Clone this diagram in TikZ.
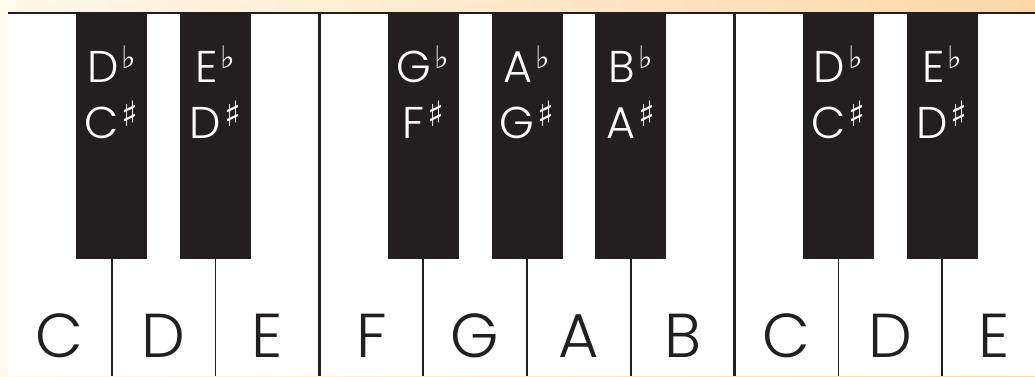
\documentclass[tikz,border=0pt]{standalone}
\usepackage{fontspec}
\setmainfont{Poppins}[UprightFont=* Light]
\newfontfamily\symfont{DejaVu Sans}
\definecolor{keyblack}{HTML}{231F20}
\definecolor{cream}{HTML}{FFF9EA}
\definecolor{peach}{HTML}{FDD7A8}
\newcommand\flt{\hspace{3pt}\raisebox{14pt}{\symfont\fontsize{31}{31}\selectfont ♭}}
\newcommand\shp{\hspace{3pt}\raisebox{12pt}{\symfont\fontsize{35}{35}\selectfont ♯}}
\tikzset{
  blackkey/.style={fill=keyblack, draw=none, minimum width=71pt, minimum height=246pt, inner sep=0pt, anchor=north},
  whitelbl/.style={font=\fontsize{62}{62}\selectfont, text=keyblack, anchor=base, inner sep=0pt, text depth=0pt},
  blacklbl/.style={font=\fontsize{44.5}{44.5}\selectfont, text=white, anchor=base, inner sep=0pt},
  thinsep/.style={draw=keyblack, line width=1.6pt},
  thicksep/.style={draw=keyblack, line width=2.6pt},
}
\begin{document}
\begin{tikzpicture}[x=1pt,y=-1pt]
\useasboundingbox (0,0) rectangle (1035,376);
\fill[left color=cream,right color=peach] (0,0) rectangle (1035,376);
\fill[white] (8,13) rectangle (1035,376);
\coordinate (tl) at (8,13);
\coordinate (tr) at (1035,13);
% white key separators under black keys and full ones
\foreach \k in {1,2,4,5,6,8,9} {
  \pgfmathsetmacro\xx{8+\k*103.8}
  \node[blackkey] (bk\k) at (\xx,13) {};
  \coordinate (bot\k) at (\xx,376);
  \draw[thinsep] (bk\k.south) -- (bot\k);
}
\foreach \k in {3,7} {
  \pgfmathsetmacro\xx{8+\k*103.8}
  \coordinate (top\k) at (\xx,13);
  \coordinate (bot\k) at (\xx,376);
  \draw[thicksep] (top\k) -- (bot\k);
}
\draw[keyblack, line width=2.6pt] (tl) -- (tr);
% white key letters
\foreach \n/\l in {0/C,1/D,2/E,3/F,4/G,5/A,6/B,7/C,8/D,9/E} {
  \pgfmathsetmacro\xx{8+(\n+0.5)*103.8}
  \node[whitelbl] (w\n) at (\xx,357) {\l};
}
% black key labels
\foreach \k/\a/\b in {1/D/C,2/E/D,4/G/F,5/A/G,6/B/A,8/D/C,9/E/D} {
  \pgfmathsetmacro\xx{8+\k*103.8}
  \node[blacklbl] (fl\k) at (\xx,82) {\a\flt};
  \node[blacklbl] (sh\k) at (\xx,138) {\b\shp};
}
\end{tikzpicture}
\end{document}
